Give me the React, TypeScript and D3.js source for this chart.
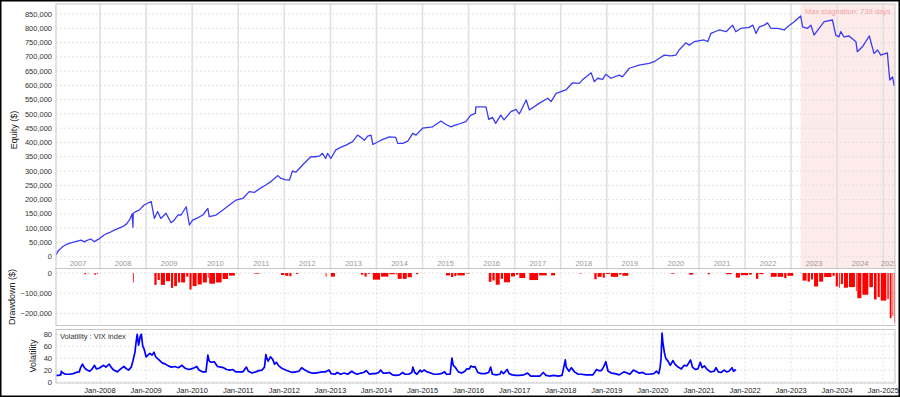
import React from 'react';
import * as d3 from 'd3';

// [decimal year, equity in $ thousands]
const equityPoints: [number, number][] = [
  [2007.045, 6], [2007.1, 22], [2007.19, 35], [2007.26, 42], [2007.33, 47], [2007.45, 52], [2007.59, 58], [2007.66, 52],
  [2007.72, 57], [2007.8, 62], [2007.88, 52], [2007.93, 58], [2007.98, 62], [2008.09, 76], [2008.2, 84], [2008.31, 93],
  [2008.49, 105], [2008.58, 115], [2008.64, 128], [2008.7, 150], [2008.715, 103], [2008.725, 152], [2008.78, 158],
  [2008.85, 163], [2008.96, 181], [2009.04, 188], [2009.11, 193], [2009.18, 134], [2009.25, 158], [2009.32, 134],
  [2009.43, 152], [2009.54, 119], [2009.61, 128], [2009.69, 146], [2009.76, 146], [2009.87, 175], [2009.94, 111],
  [2010.01, 128], [2010.12, 136], [2010.23, 146], [2010.34, 169], [2010.37, 140], [2010.52, 146], [2010.66, 163],
  [2010.8, 180], [2010.95, 198], [2011.1, 204], [2011.24, 228], [2011.35, 225], [2011.48, 240], [2011.6, 251],
  [2011.7, 262], [2011.86, 284], [2011.93, 274], [2012.02, 270], [2012.11, 268], [2012.18, 300], [2012.25, 296],
  [2012.33, 309], [2012.45, 330], [2012.58, 350], [2012.66, 350], [2012.76, 352], [2012.83, 362], [2012.9, 344],
  [2012.94, 362], [2013.01, 344], [2013.12, 374], [2013.22, 383], [2013.34, 391], [2013.48, 403], [2013.59, 426],
  [2013.66, 418], [2013.74, 408], [2013.81, 422], [2013.88, 426], [2013.92, 393], [2014.1, 408], [2014.28, 420],
  [2014.42, 418], [2014.46, 397], [2014.57, 397], [2014.68, 405], [2014.79, 432], [2014.86, 426], [2014.93, 438],
  [2015.0, 450], [2015.22, 455], [2015.4, 475], [2015.51, 463], [2015.62, 455], [2015.69, 460], [2015.76, 463],
  [2015.94, 473], [2016.05, 496], [2016.15, 502], [2016.16, 525], [2016.38, 525], [2016.44, 481], [2016.52, 488],
  [2016.59, 467], [2016.7, 496], [2016.77, 479], [2016.92, 508], [2017.03, 516], [2017.1, 500], [2017.25, 549],
  [2017.32, 514], [2017.53, 537], [2017.72, 555], [2017.79, 543], [2017.9, 572], [2018.11, 584], [2018.26, 609],
  [2018.4, 607], [2018.48, 621], [2018.66, 644], [2018.73, 613], [2018.8, 625], [2018.91, 621], [2018.98, 639],
  [2019.09, 625], [2019.27, 636], [2019.34, 630], [2019.49, 660], [2019.7, 671], [2019.92, 677], [2020.03, 683],
  [2020.14, 695], [2020.25, 706], [2020.39, 703], [2020.5, 706], [2020.57, 724], [2020.72, 749], [2020.79, 741],
  [2020.9, 753], [2021.11, 759], [2021.19, 753], [2021.26, 782], [2021.44, 794], [2021.59, 788], [2021.73, 811],
  [2021.8, 788], [2021.91, 800], [2022.09, 803], [2022.17, 811], [2022.24, 782], [2022.31, 805], [2022.42, 811],
  [2022.49, 819], [2022.56, 800], [2022.71, 800], [2022.85, 794], [2022.92, 805], [2023.07, 823], [2023.21, 843],
  [2023.25, 805], [2023.36, 800], [2023.43, 811], [2023.5, 776], [2023.61, 800], [2023.72, 823], [2023.9, 829],
  [2023.97, 776], [2024.04, 770], [2024.08, 788], [2024.15, 770], [2024.26, 773], [2024.41, 753], [2024.44, 718],
  [2024.55, 735], [2024.7, 773], [2024.8, 712], [2024.88, 724], [2024.95, 706], [2025.09, 714], [2025.14, 619],
  [2025.2, 630], [2025.24, 598],
];

// [decimal year, VIX]
const vixPoints: [number, number][] = [
  [2007.05, 11], [2007.1, 11], [2007.15, 12], [2007.16, 18], [2007.2, 15], [2007.25, 13], [2007.33, 13], [2007.42, 14],
  [2007.48, 16], [2007.55, 17], [2007.58, 24], [2007.62, 30], [2007.66, 24], [2007.72, 20], [2007.78, 18], [2007.83, 22],
  [2007.88, 28], [2007.92, 22], [2007.98, 23], [2008.04, 26], [2008.08, 28], [2008.13, 25], [2008.2, 30], [2008.25, 24],
  [2008.3, 20], [2008.38, 17], [2008.45, 22], [2008.52, 26], [2008.58, 22], [2008.62, 20], [2008.68, 25], [2008.72, 36],
  [2008.76, 50], [2008.79, 70], [2008.81, 80], [2008.84, 62], [2008.88, 78], [2008.9, 80], [2008.93, 60], [2008.96, 55],
  [2009.0, 42], [2009.04, 45], [2009.08, 48], [2009.13, 45], [2009.17, 50], [2009.21, 42], [2009.28, 37], [2009.35, 32],
  [2009.42, 30], [2009.48, 27], [2009.55, 25], [2009.62, 26], [2009.7, 24], [2009.78, 28], [2009.85, 23], [2009.92, 21],
  [2009.98, 22], [2010.05, 24], [2010.1, 26], [2010.15, 20], [2010.22, 17], [2010.3, 17], [2010.34, 45], [2010.37, 35],
  [2010.42, 33], [2010.48, 34], [2010.55, 26], [2010.62, 25], [2010.68, 24], [2010.75, 21], [2010.82, 20], [2010.88, 21],
  [2010.95, 17], [2011.02, 17], [2011.1, 17], [2011.18, 25], [2011.22, 18], [2011.3, 15], [2011.38, 17], [2011.45, 19],
  [2011.52, 20], [2011.57, 25], [2011.6, 46], [2011.62, 40], [2011.65, 35], [2011.7, 42], [2011.75, 38], [2011.79, 30],
  [2011.83, 33], [2011.88, 27], [2011.95, 23], [2012.03, 20], [2012.1, 18], [2012.18, 16], [2012.25, 17], [2012.32, 18],
  [2012.38, 24], [2012.45, 20], [2012.52, 17], [2012.6, 15], [2012.68, 15], [2012.76, 16], [2012.83, 17], [2012.9, 17],
  [2012.97, 20], [2013.02, 14], [2013.1, 13], [2013.15, 16], [2013.22, 13], [2013.3, 15], [2013.38, 13], [2013.46, 18],
  [2013.52, 15], [2013.58, 13], [2013.66, 15], [2013.72, 16], [2013.78, 19], [2013.85, 13], [2013.92, 14], [2013.98, 14],
  [2014.05, 16], [2014.09, 20], [2014.15, 15], [2014.22, 15], [2014.28, 16], [2014.35, 12], [2014.42, 11], [2014.5, 12],
  [2014.57, 16], [2014.62, 13], [2014.7, 13], [2014.77, 16], [2014.79, 25], [2014.83, 16], [2014.88, 13], [2014.95, 20],
  [2014.98, 17], [2015.04, 20], [2015.1, 17], [2015.18, 15], [2015.25, 13], [2015.33, 13], [2015.4, 14], [2015.48, 17],
  [2015.52, 13], [2015.6, 13], [2015.64, 40], [2015.67, 28], [2015.72, 24], [2015.78, 17], [2015.85, 15], [2015.92, 18],
  [2015.96, 22], [2016.02, 22], [2016.05, 27], [2016.1, 25], [2016.14, 26], [2016.2, 16], [2016.28, 14], [2016.36, 14],
  [2016.44, 16], [2016.48, 25], [2016.52, 13], [2016.6, 12], [2016.68, 13], [2016.71, 18], [2016.76, 14], [2016.84, 21],
  [2016.88, 14], [2016.95, 12], [2017.02, 11], [2017.1, 11], [2017.2, 12], [2017.28, 15], [2017.35, 10], [2017.45, 10],
  [2017.55, 10], [2017.62, 16], [2017.68, 11], [2017.75, 10], [2017.85, 11], [2017.95, 10], [2018.03, 11], [2018.1, 37],
  [2018.12, 25], [2018.18, 18], [2018.23, 24], [2018.3, 17], [2018.38, 13], [2018.45, 13], [2018.55, 12], [2018.62, 12],
  [2018.7, 12], [2018.78, 21], [2018.83, 19], [2018.88, 19], [2018.93, 25], [2018.98, 34], [2019.03, 18], [2019.1, 15],
  [2019.18, 14], [2019.27, 12], [2019.37, 17], [2019.42, 16], [2019.5, 13], [2019.58, 20], [2019.63, 18], [2019.7, 15],
  [2019.78, 16], [2019.85, 13], [2019.93, 13], [2020.02, 14], [2020.08, 18], [2020.13, 14], [2020.16, 25], [2020.18, 40],
  [2020.2, 82], [2020.22, 65], [2020.25, 50], [2020.28, 40], [2020.33, 35], [2020.38, 28], [2020.44, 36], [2020.48, 30],
  [2020.55, 25], [2020.62, 22], [2020.68, 28], [2020.74, 27], [2020.82, 37], [2020.86, 25], [2020.92, 21], [2020.98, 22],
  [2021.03, 33], [2021.07, 24], [2021.12, 27], [2021.18, 21], [2021.25, 17], [2021.33, 18], [2021.37, 24], [2021.42, 17],
  [2021.48, 16], [2021.55, 20], [2021.6, 17], [2021.65, 18], [2021.72, 24], [2021.75, 18], [2021.8, 21],
];

const equityTicks = [0, 50000, 100000, 150000, 200000, 250000, 300000, 350000, 400000, 450000, 500000, 550000,
  600000, 650000, 700000, 750000, 800000, 850000];
const drawdownTicks = [0, -100000, -200000];
const volTicks = [0, 20, 40, 60, 80];
const yearLabels = [2007, 2008, 2009, 2010, 2011, 2012, 2013, 2014, 2015, 2016, 2017, 2018, 2019, 2020, 2021, 2022,
  2023, 2024, 2025];
const januaryTicks = [2008, 2009, 2010, 2011, 2012, 2013, 2014, 2015, 2016, 2017, 2018, 2019, 2020, 2021, 2022, 2023,
  2024, 2025];
const stagnationStart = 2023.21;
const stagnationEnd = 2025.24;
const stagnationLabel = 'Max stagnation: 739 days';

const toDate = (dy: number) => {
  const y = Math.floor(dy);
  const f = dy - y;
  return new Date(y, 0, 1 + f * 365.25);
};

const W = 900;
const H = 397;
const L = 56;
const R = 895;
const EQ = { top: 4, bottom: 268.5 };
const DD = { top: 268.5, bottom: 325.5 };
const VOL = { top: 329.5, bottom: 383 };
const FONT = '"Liberation Sans", Arial, sans-serif';

export default function App() {
  const x = d3.scaleTime().domain([new Date(2008, 0, 1), new Date(2025, 0, 1)]).range([100, 883.3]);
  const eqY = d3.scaleLinear().domain([0, 850000]).range([256.7, 14]);
  const ddY = d3.scaleLinear().domain([0, -200000]).range([273, 313.3]);
  const volY = d3.scaleLinear().domain([0, 80]).range([382, 334.3]);

  const eqLine = d3.line<[number, number]>()
    .x((d) => x(toDate(d[0])))
    .y((d) => eqY(d[1] * 1000));
  const volLine = d3.line<[number, number]>()
    .x((d) => x(toDate(d[0])))
    .y((d) => volY(d[1]));

  // drawdown from running peak of the equity series
  let peak = -Infinity;
  const dd = equityPoints.map((p) => {
    peak = Math.max(peak, p[1]);
    return { t: p[0], v: (p[1] - peak) * 1000 };
  });

  const janX = januaryTicks.map((yr) => x(new Date(yr, 0, 1)));
  const grid = '#dcdcdc';

  return (
    <svg width={W} height={H} style={{ position: 'absolute', left: 0, top: 0, fontFamily: FONT }}>
      <defs>
        <clipPath id="clipEq"><rect x={L} y={EQ.top} width={R - L} height={EQ.bottom - EQ.top} /></clipPath>
        <clipPath id="clipDd"><rect x={L} y={DD.top} width={R - L} height={DD.bottom - DD.top} /></clipPath>
        <clipPath id="clipVol"><rect x={L} y={VOL.top} width={R - L} height={VOL.bottom - VOL.top} /></clipPath>
      </defs>
      <rect x={0} y={0} width={W} height={H} fill="#fff" />

      {/* Equity panel */}
      <g clipPath="url(#clipEq)">
        <rect x={x(toDate(stagnationStart))} y={EQ.top} width={x(toDate(stagnationEnd)) - x(toDate(stagnationStart)) + 5}
          height={EQ.bottom - EQ.top} fill="#fdeaea" />
        {equityTicks.map((t) => (
          <line key={t} x1={L} x2={R} y1={eqY(t)} y2={eqY(t)} stroke={grid} strokeDasharray="2,2" strokeWidth={0.8} />
        ))}
        {janX.map((xx, i) => (
          <line key={i} x1={xx} x2={xx} y1={EQ.top} y2={EQ.bottom} stroke="#e0e0e0" strokeWidth={1.6} />
        ))}
        {yearLabels.map((yr) => {
          const a = Math.max(L, x(new Date(yr, 0, 1)));
          const b = Math.min(R, x(new Date(yr + 1, 0, 1)));
          return (
            <text key={yr} x={(a + b) / 2} y={265.5} fontSize={7.5} fill="#9a9a9a" textAnchor="middle">{yr}</text>
          );
        })}
        <path d={eqLine(equityPoints) || ''} fill="none" stroke="#3b3bf5" strokeWidth={1.3} strokeLinejoin="round" />
        <text x={(x(toDate(stagnationStart)) + R) / 2} y={13.5} fontSize={7.5} fill="#f4a3a3" textAnchor="middle">
          {stagnationLabel}
        </text>
      </g>
      <rect x={L} y={EQ.top} width={R - L} height={EQ.bottom - EQ.top} fill="none" stroke="#c6c6c6" strokeWidth={1} />
      {equityTicks.map((t) => (
        <text key={t} x={52} y={eqY(t)} dy="0.35em" fontSize={7.5} fill="#333" textAnchor="end">
          {d3.format(',')(t)}
        </text>
      ))}
      <text transform={`translate(17,${130}) rotate(-90)`} fontSize={9} fill="#222" textAnchor="middle">Equity ($)</text>

      {/* Drawdown panel */}
      <g clipPath="url(#clipDd)">
        {drawdownTicks.map((t) => (
          <line key={t} x1={L} x2={R} y1={ddY(t)} y2={ddY(t)} stroke={grid} strokeDasharray="2,2" strokeWidth={0.8} />
        ))}
        {janX.map((xx, i) => (
          <line key={i} x1={xx} x2={xx} y1={DD.top} y2={DD.bottom} stroke={grid} strokeDasharray="2,2" strokeWidth={0.8} />
        ))}
        {dd.map((d, i) => {
          if (d.v >= 0) return null;
          const x0 = x(toDate(d.t));
          const x1 = i < dd.length - 1 ? x(toDate(dd[i + 1].t)) : R;
          const w = Math.max(0.8, x1 - x0 - 1);
          return <rect key={i} x={x0} y={ddY(0)} width={w} height={ddY(d.v) - ddY(0)} fill="#ff0000" />;
        })}
      </g>
      <rect x={L} y={DD.top} width={R - L} height={DD.bottom - DD.top} fill="none" stroke="#c6c6c6" strokeWidth={1} />
      {drawdownTicks.map((t) => (
        <text key={t} x={52} y={ddY(t)} dy="0.35em" fontSize={7.5} fill="#333" textAnchor="end">
          {d3.format(',')(t)}
        </text>
      ))}
      <text transform={`translate(15,${297}) rotate(-90)`} fontSize={9} fill="#222" textAnchor="middle">Drawdown ($)</text>

      {/* Volatility panel */}
      <g clipPath="url(#clipVol)">
        {volTicks.map((t) => (
          <line key={t} x1={L} x2={R} y1={volY(t)} y2={volY(t)} stroke={grid} strokeDasharray="2,2" strokeWidth={0.8} />
        ))}
        {janX.map((xx, i) => (
          <line key={i} x1={xx} x2={xx} y1={VOL.top} y2={VOL.bottom} stroke={grid} strokeDasharray="2,2" strokeWidth={0.8} />
        ))}
        <path d={volLine(vixPoints) || ''} fill="none" stroke="#0000ff" strokeWidth={1.7} strokeLinejoin="round" />
        <text x={60} y={338.5} fontSize={7.5} fill="#333">Volatility : VIX index</text>
      </g>
      <rect x={L} y={VOL.top} width={R - L} height={VOL.bottom - VOL.top} fill="none" stroke="#c6c6c6" strokeWidth={1} />
      {volTicks.map((t) => (
        <text key={t} x={52} y={volY(t)} dy="0.35em" fontSize={7.5} fill="#333" textAnchor="end">{t}</text>
      ))}
      <text transform={`translate(36,${356}) rotate(-90)`} fontSize={9} fill="#222" textAnchor="middle">Volatility</text>
      {januaryTicks.map((yr, i) => (
        <text key={yr} x={janX[i]} y={392.5} fontSize={7.5} fill="#222" textAnchor="middle">{`Jan-${yr}`}</text>
      ))}

      <rect x={0.75} y={0.75} width={W - 1.5} height={H - 1.5} fill="none" stroke="#000" strokeWidth={1.5} />
    </svg>
  );
}
